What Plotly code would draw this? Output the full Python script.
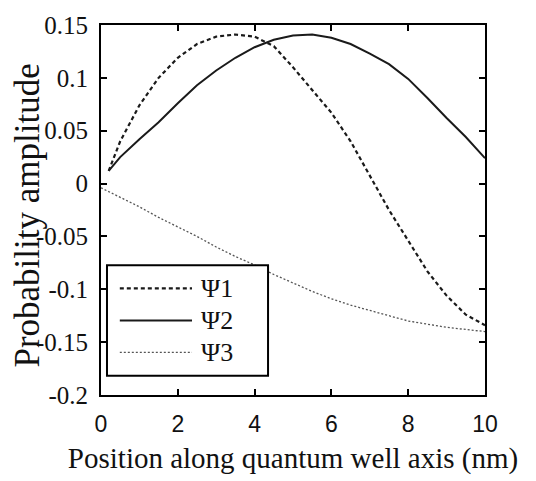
import plotly.graph_objects as go

# ---- data ----
x_psi1 = [0.2, 0.5, 1.0, 1.5, 2.0, 2.5, 3.0, 3.5, 4.0, 4.5, 5.0, 5.5, 6.0, 6.5, 7.0, 7.5, 8.0, 8.5, 9.0, 9.5, 10.0]
psi1 = [0.012, 0.040, 0.074, 0.100, 0.119, 0.132, 0.139, 0.141, 0.139, 0.130, 0.110, 0.089, 0.067, 0.040, 0.008,
        -0.025, -0.054, -0.083, -0.106, -0.124, -0.134]

x_psi2 = [0.2, 0.5, 1.0, 1.5, 2.0, 2.5, 3.0, 3.5, 4.0, 4.5, 5.0, 5.5, 6.0, 6.5, 7.0, 7.5, 8.0, 8.5, 9.0, 9.5, 10.0]
psi2 = [0.012, 0.025, 0.042, 0.058, 0.076, 0.093, 0.107, 0.119, 0.129, 0.136, 0.140, 0.141, 0.138, 0.132, 0.123,
        0.113, 0.099, 0.081, 0.062, 0.044, 0.024]

x_psi3 = [0.0, 0.5, 1.0, 1.5, 2.0, 2.5, 3.0, 3.5, 4.0, 4.5, 5.0, 5.5, 6.0, 6.5, 7.0, 7.5, 8.0, 8.5, 9.0, 9.5, 10.0]
psi3 = [-0.004, -0.013, -0.022, -0.032, -0.041, -0.050, -0.060, -0.069, -0.077, -0.086, -0.094, -0.102, -0.109,
        -0.115, -0.120, -0.125, -0.130, -0.133, -0.136, -0.138, -0.140]

series_names = ["Ψ1", "Ψ2", "Ψ3"]

x_tick_vals = [0, 2, 4, 6, 8, 10]
x_tick_text = ["0", "2", "4", "6", "8", "10"]
y_tick_vals = [0.15, 0.1, 0.05, 0, -0.05, -0.1, -0.15, -0.2]
y_tick_text = ["0.15", "0.1", "0.05", "0", "-0.05", "-0.1", "-0.15", "-0.2"]

x_title = "Position along quantum well axis (nm)"
y_title = "Probability amplitude"

# ---- styling ----
SERIF = "Liberation Serif"
SANS = "Liberation Sans"
styles = [
    dict(color="#1a1a1a", width=2.2, dash="4px,3px"),
    dict(color="#1a1a1a", width=2.0, dash="solid"),
    dict(color="#555555", width=1.3, dash="2px,2px"),
]

fig = go.Figure()
for xs, ys, name, st in zip([x_psi1, x_psi2, x_psi3], [psi1, psi2, psi3], series_names, styles):
    fig.add_trace(go.Scatter(x=xs, y=ys, mode="lines", name=name, line=st, showlegend=False))

axis_common = dict(
    showline=True, linecolor="black", linewidth=2, mirror="ticks",
    ticks="inside", ticklen=6, tickwidth=1.5, tickcolor="black",
    showgrid=False, zeroline=False,
)

fig.update_layout(
    width=536, height=481,
    margin=dict(l=101, r=51, t=20, b=79),
    paper_bgcolor="white", plot_bgcolor="white",
    font=dict(family=SERIF, color="#111"),
    xaxis=dict(range=[0, 10], tickvals=x_tick_vals, ticktext=x_tick_text,
               tickfont=dict(family=SANS, size=23, color="#111"),
               ticklabelstandoff=7,
               title=dict(text=x_title, font=dict(family=SERIF, size=29, color="#111"), standoff=12),
               **axis_common),
    yaxis=dict(range=[-0.2, 0.15], tickvals=y_tick_vals, ticktext=y_tick_text,
               tickfont=dict(family=SERIF, size=25, color="#111"),
               ticklabelstandoff=6,
               **axis_common),
)

# y-axis title placed as rotated text, overlapping the tick label column like the reference
fig.add_annotation(xref="paper", yref="paper", x=-0.19, y=0.485, text=y_title, showarrow=False,
                   textangle=-90, xanchor="center", yanchor="middle",
                   font=dict(family=SERIF, size=35, color="#111"))

# ---- legend box drawn in paper coordinates ----
box = dict(x0=0.0156, x1=0.435, y0=0.052, y1=0.351)
fig.add_shape(type="rect", xref="paper", yref="paper", layer="above",
              line=dict(color="black", width=2), fillcolor="white", **box)
row_y = [0.288, 0.2016, 0.115]
for name, st, ry in zip(series_names, styles, row_y):
    fig.add_shape(type="line", xref="paper", yref="paper", layer="above",
                  x0=0.049, x1=0.237, y0=ry, y1=ry, line=st)
    fig.add_annotation(xref="paper", yref="paper", x=0.255, y=ry, text=name, showarrow=False,
                       xanchor="left", yanchor="middle",
                       font=dict(family=SERIF, size=26, color="#111"))

fig.write_html("out.html")
